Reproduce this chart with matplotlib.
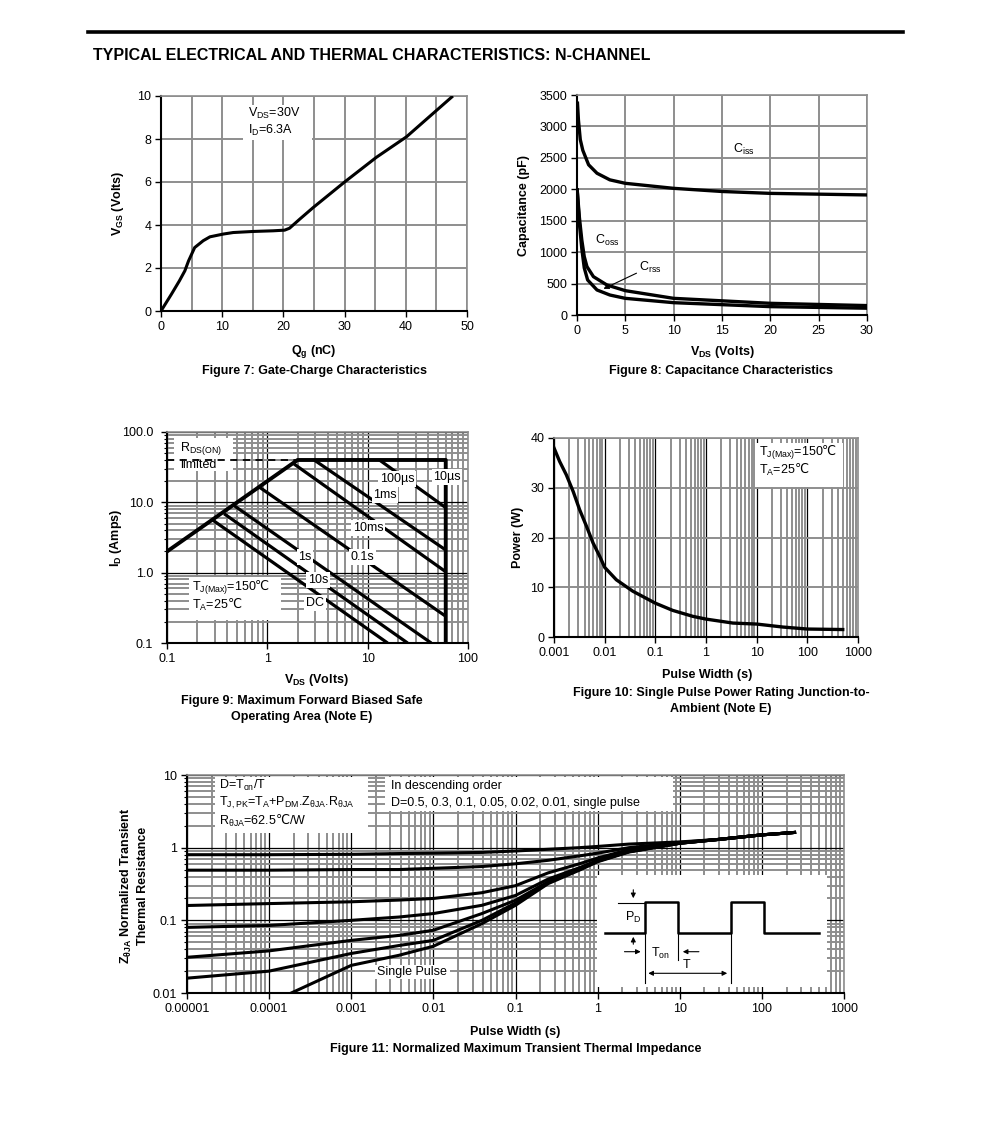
#!/usr/bin/env python3
"""Datasheet page: typical electrical and thermal characteristics (N-channel)."""
import matplotlib
matplotlib.use("Agg")
import matplotlib.pyplot as plt
from matplotlib.patches import Rectangle
from matplotlib.ticker import LogLocator, MultipleLocator, NullFormatter

W, H = 991, 1145
GRAY = "#8e8e8e"
FONT = ["Liberation Sans", "DejaVu Sans"]
LABEL_FS = 9
DEGC = r"$\mathrm{℃}$"  # Liberation Sans has no ℃, take it from the DejaVu math font

plt.rcParams["font.family"] = FONT
plt.rcParams["font.size"] = LABEL_FS
plt.rcParams["mathtext.default"] = "regular"

# --- Figure 7: gate charge ---
qg_nc = [0, 1.7, 3.0, 3.9, 4.5, 5.5, 6.9, 8.0, 10.2, 11.8, 15.1, 18.3, 20.2, 21.0,
         22.7, 24.9, 30.0, 35.2, 40.1, 44.5, 47.7]
vgs_v = [0, 0.78, 1.4, 1.87, 2.33, 2.95, 3.27, 3.45, 3.58, 3.65, 3.70, 3.73, 3.76, 3.85,
         4.28, 4.82, 6.0, 7.15, 8.1, 9.2, 10.0]

# --- Figure 8: capacitance ---
ciss_v = [0.05, 0.15, 0.34, 0.6, 0.86, 1.2, 2.07, 3.4, 5, 10, 15, 20, 30]
ciss_pf = [3370, 3100, 2790, 2620, 2520, 2390, 2255, 2150, 2095, 2015, 1965, 1935, 1910]
coss_v = [0.02, 0.25, 0.5, 0.75, 1.03, 1.7, 3.1, 5, 10, 20, 30]
coss_pf = [1990, 1550, 1190, 930, 770, 610, 477, 387, 265, 186, 150]
crss_v = [0.02, 0.25, 0.5, 0.75, 1.1, 2.07, 3.4, 5, 10, 20, 30]
crss_pf = [1990, 1450, 1050, 750, 557, 398, 318, 265, 196, 133, 108]

# --- Figure 9: safe operating area ---
soa_edge_v = [0.1, 2.0, 60, 60]
soa_edge_a = [2.0, 40, 40, 0.1]
rds_limit_v = [0.1, 2.0]
rds_limit_a = [40, 40]
soa_pulse_names = ["10µs", "100µs", "1ms", "10ms", "0.1s", "1s", "10s/DC"]
soa_v_start = [13.1, 2.93, 1.85, 0.83, 0.46, 0.37, 0.28]
soa_a_start = [40, 40, 35, 16.5, 9.1, 6.9, 5.7]
soa_v_end = [60, 60, 60, 60, 43, 25, 15.8]
soa_a_end = [8.4, 2.1, 1.03, 0.24, 0.1, 0.1, 0.1]

# --- Figure 10: single pulse power ---
pw_s = [0.001, 0.00129, 0.00175, 0.0024, 0.0032, 0.0044, 0.0059, 0.008, 0.01, 0.017,
        0.036, 0.1, 0.22, 0.55, 1.0, 3.4, 10, 33, 100, 500]
pw_w = [38, 35.3, 32.6, 29.2, 25.6, 22.2, 18.9, 16.2, 14.0, 11.5,
        9.2, 6.8, 5.35, 4.15, 3.6, 2.8, 2.6, 2.0, 1.6, 1.5]

# --- Figure 11: transient thermal impedance ---
zth_t = [1e-5, 1e-4, 1e-3, 0.0038, 0.01, 0.039, 0.1, 0.25, 0.6, 1, 2.4, 10, 30, 100, 250]
zth_d05 = [0.80, 0.80, 0.81, 0.83, 0.84, 0.86, 0.90, 0.95, 1.00, 1.04, 1.12, 1.20, 1.30, 1.50, 1.62]
zth_d03 = [0.49, 0.49, 0.50, 0.50, 0.52, 0.55, 0.60, 0.67, 0.77, 0.84, 1.00, 1.18, 1.30, 1.50, 1.62]
zth_d01 = [0.16, 0.17, 0.18, 0.19, 0.20, 0.24, 0.30, 0.45, 0.60, 0.72, 0.94, 1.16, 1.30, 1.50, 1.62]
zth_d005 = [0.080, 0.085, 0.10, 0.111, 0.124, 0.161, 0.22, 0.37, 0.53, 0.67, 0.90, 1.15, 1.30, 1.50, 1.62]
zth_d002 = [0.031, 0.038, 0.053, 0.062, 0.073, 0.124, 0.189, 0.34, 0.51, 0.66, 0.88, 1.15, 1.30, 1.50, 1.62]
zth_d001 = [0.016, 0.020, 0.035, 0.045, 0.053, 0.10, 0.173, 0.33, 0.50, 0.65, 0.88, 1.15, 1.30, 1.50, 1.62]
zth_single_t = [1.86e-4, 1e-3, 0.0038, 0.01, 0.039, 0.1, 0.25, 0.6, 1, 2.4, 10, 30, 100, 250]
zth_single = [0.01, 0.024, 0.033, 0.044, 0.09, 0.161, 0.32, 0.49, 0.64, 0.87, 1.15, 1.30, 1.50, 1.62]

# pulse sketch in the Figure 11 inset (sketch units = pixels of the inset box)
wave_x = [8, 48, 48, 81.3, 81.3, 133.7, 133.7, 167, 167, 222.3]
wave_y = [57.7, 57.7, 26.7, 26.7, 57.7, 57.7, 26.7, 26.7, 57.7, 57.7]

# axes extents in page pixels: left, top, right, bottom
EXT7 = (161, 96, 467, 311)
EXT8 = (577, 95, 867, 315)
EXT9 = (167, 432, 468, 643)
EXT10 = (554, 438, 858, 637)
EXT11 = (187, 775, 844, 993)
EXT_INSET = (597, 875, 827, 987)


def add_axes(fig, ext):
    l, t, r, b = ext
    return fig.add_axes([l / W, 1 - b / H, (r - l) / W, (b - t) / H])


def afr(ext, x, y):
    l, t, r, b = ext
    return (x - l) / (r - l), (b - y) / (b - t)


def fig_text(fig, x, y, s, **kw):
    fig.text(x / W, 1 - y / H, s, **kw)


def ax_text(ax, ext, x, y, s, **kw):
    fx, fy = afr(ext, x, y)
    kw.setdefault("va", "center")
    ax.text(fx, fy, s, transform=ax.transAxes, fontsize=LABEL_FS, **kw)


def white_box(ax, ext, x0, y0, x1, y1, z=1.5):
    fx0, fy1 = afr(ext, x0, y1)
    fx1, fy0 = afr(ext, x1, y0)
    ax.add_patch(Rectangle((fx0, fy1), fx1 - fx0, fy0 - fy1, transform=ax.transAxes,
                           facecolor="white", edgecolor="none", zorder=z))


def label_box(ax, ext, x, y, s):
    fx, fy = afr(ext, x, y)
    ax.text(fx, fy, s, transform=ax.transAxes, ha="center", va="center", fontsize=LABEL_FS,
            zorder=5, bbox=dict(facecolor="white", edgecolor="none", pad=1.2))


def style_axes(ax, log_minor_y=False):
    ax.set_axisbelow(True)
    for side in ("left", "bottom"):
        ax.spines[side].set_color("black")
        ax.spines[side].set_linewidth(1.5)
    for side in ("top", "right"):
        ax.spines[side].set_color(GRAY)
        ax.spines[side].set_linewidth(1.2)
    ax.tick_params(which="major", direction="out", length=4, width=1, labelsize=LABEL_FS, pad=3)
    ax.tick_params(which="minor", direction="out", length=0)
    if log_minor_y:
        ax.tick_params(axis="y", which="minor", length=2.5, width=0.8)


def log_grid(ax, axis):
    target = ax.xaxis if axis == "x" else ax.yaxis
    target.set_major_locator(LogLocator(base=10, numticks=20))
    target.set_minor_locator(LogLocator(base=10, subs=range(2, 10), numticks=20))
    target.set_minor_formatter(NullFormatter())
    ax.grid(True, which="minor", axis=axis, color=GRAY, lw=1.4)
    ax.grid(True, which="major", axis=axis, color="black", lw=0.9)


def main():
    fig = plt.figure(figsize=(W / 100, H / 100), dpi=100)

    # page header
    fig.add_artist(plt.Line2D([88 / W, 903 / W], [1 - 31.7 / H, 1 - 31.7 / H],
                              color="black", lw=2.6, transform=fig.transFigure))
    fig_text(fig, 93, 56, "TYPICAL ELECTRICAL AND THERMAL CHARACTERISTICS: N-CHANNEL",
             fontsize=11.5, fontweight="bold", ha="left", va="center")

    # ---- Figure 7 ----
    ax = add_axes(fig, EXT7)
    style_axes(ax)
    ax.set_xlim(0, 50)
    ax.set_ylim(0, 10)
    ax.xaxis.set_major_locator(MultipleLocator(10))
    ax.xaxis.set_minor_locator(MultipleLocator(5))
    ax.yaxis.set_major_locator(MultipleLocator(2))
    ax.grid(True, which="both", color=GRAY, lw=1.4)
    ax.plot(qg_nc, vgs_v, color="black", lw=2.2, zorder=3, solid_capstyle="butt")
    white_box(ax, EXT7, 243, 105, 312, 140)
    ax_text(ax, EXT7, 248, 113, "V$_{DS}$=30V", ha="left", zorder=4)
    ax_text(ax, EXT7, 248, 130, "I$_D$=6.3A", ha="left", zorder=4)
    fig_text(fig, 314, 352, "Q$_g$ (nC)", fontweight="bold", ha="center", va="center")
    fig_text(fig, 314, 371, "Figure 7: Gate-Charge Characteristics", fontweight="bold",
             ha="center", va="center")
    fig_text(fig, 118, 203, "V$_{GS}$ (Volts)", fontweight="bold", rotation=90,
             ha="center", va="center")

    # ---- Figure 8 ----
    ax = add_axes(fig, EXT8)
    style_axes(ax)
    ax.set_xlim(0, 30)
    ax.set_ylim(0, 3500)
    ax.xaxis.set_major_locator(MultipleLocator(5))
    ax.yaxis.set_major_locator(MultipleLocator(500))
    ax.grid(True, which="major", color=GRAY, lw=1.4)
    for v, c in ((ciss_v, ciss_pf), (coss_v, coss_pf), (crss_v, crss_pf)):
        ax.plot(v, c, color="black", lw=2.4, zorder=3)
    ax_text(ax, EXT8, 744, 149, "C$_{iss}$", ha="center")
    ax_text(ax, EXT8, 607, 240, "C$_{oss}$", ha="center")
    ax_text(ax, EXT8, 650, 267, "C$_{rss}$", ha="center")
    x0, y0 = afr(EXT8, 639, 272)
    x1, y1 = afr(EXT8, 601, 290)
    ax.annotate("", xy=(x1, y1), xytext=(x0, y0), xycoords="axes fraction",
                arrowprops=dict(arrowstyle="-|>", color="black", lw=0.8,
                                mutation_scale=8), zorder=4)
    fig_text(fig, 722, 352, "V$_{DS}$ (Volts)", fontweight="bold", ha="center", va="center")
    fig_text(fig, 721, 371, "Figure 8: Capacitance Characteristics", fontweight="bold",
             ha="center", va="center")
    fig_text(fig, 524, 205, "Capacitance (pF)", fontweight="bold", rotation=90,
             ha="center", va="center")

    # ---- Figure 9 ----
    ax = add_axes(fig, EXT9)
    ax.set_xscale("log")
    ax.set_yscale("log")
    ax.set_xlim(0.1, 100)
    ax.set_ylim(0.1, 100)
    style_axes(ax, log_minor_y=True)
    log_grid(ax, "x")
    log_grid(ax, "y")
    ax.set_xticks([0.1, 1, 10, 100], ["0.1", "1", "10", "100"])
    ax.set_yticks([0.1, 1, 10, 100], ["0.1", "1.0", "10.0", "100.0"])
    ax.tick_params(axis="y", which="major", pad=6)
    white_box(ax, EXT9, 174, 438, 233, 471)
    ax_text(ax, EXT9, 180, 449, "R$_{DS(ON)}$", ha="left", zorder=1.6)
    ax_text(ax, EXT9, 180, 465, "limited", ha="left", zorder=1.6)
    ax.plot(rds_limit_v, rds_limit_a, color="black", lw=1.3, ls=(0, (4, 3)), zorder=3)
    ax.plot(soa_edge_v, soa_edge_a, color="black", lw=2.8, zorder=3)
    for vs, a_s, ve, a_e in zip(soa_v_start, soa_a_start, soa_v_end, soa_a_end):
        ax.plot([vs, ve], [a_s, a_e], color="black", lw=2.3, zorder=3, solid_capstyle="butt")
    label_box(ax, EXT9, 397, 479, "100µs")
    label_box(ax, EXT9, 447, 477, "10µs")
    label_box(ax, EXT9, 385, 495, "1ms")
    label_box(ax, EXT9, 368, 528, "10ms")
    label_box(ax, EXT9, 305, 557, "1s")
    label_box(ax, EXT9, 362, 557, "0.1s")
    label_box(ax, EXT9, 318, 580, "10s")
    label_box(ax, EXT9, 315, 603, "DC")
    white_box(ax, EXT9, 189, 577, 281, 620)
    ax_text(ax, EXT9, 192, 588, "T$_{J(Max)}$=150" + DEGC, ha="left", zorder=4)
    ax_text(ax, EXT9, 192, 605, "T$_A$=25" + DEGC, ha="left", zorder=4)
    fig_text(fig, 316, 680, "V$_{DS}$ (Volts)", fontweight="bold", ha="center", va="center")
    fig_text(fig, 302, 709, "Figure 9: Maximum Forward Biased Safe\nOperating Area (Note E)",
             fontweight="bold", ha="center", va="center", linespacing=1.45)
    fig_text(fig, 116, 538, "I$_D$ (Amps)", fontweight="bold", rotation=90,
             ha="center", va="center")

    # ---- Figure 10 ----
    ax = add_axes(fig, EXT10)
    ax.set_xscale("log")
    ax.set_xlim(0.001, 1000)
    ax.set_ylim(0, 40)
    style_axes(ax)
    log_grid(ax, "x")
    ax.yaxis.set_major_locator(MultipleLocator(10))
    ax.grid(True, which="major", axis="y", color=GRAY, lw=1.4)
    ax.set_xticks([0.001, 0.01, 0.1, 1, 10, 100, 1000],
                  ["0.001", "0.01", "0.1", "1", "10", "100", "1000"])
    ax.plot(pw_s, pw_w, color="black", lw=2.4, zorder=3)
    white_box(ax, EXT10, 755, 443, 843, 487)
    ax_text(ax, EXT10, 759, 453, "T$_{J(Max)}$=150" + DEGC, ha="left", zorder=4)
    ax_text(ax, EXT10, 759, 470, "T$_A$=25" + DEGC, ha="left", zorder=4)
    fig_text(fig, 707, 675, "Pulse Width (s)", fontweight="bold", ha="center", va="center")
    fig_text(fig, 721, 701, "Figure 10: Single Pulse Power Rating Junction-to-\nAmbient (Note E)",
             fontweight="bold", ha="center", va="center", linespacing=1.35)
    fig_text(fig, 518, 537, "Power (W)", fontweight="bold", rotation=90,
             ha="center", va="center")

    # ---- Figure 11 ----
    ax = add_axes(fig, EXT11)
    ax.set_xscale("log")
    ax.set_yscale("log")
    ax.set_xlim(1e-5, 1000)
    ax.set_ylim(0.01, 10)
    style_axes(ax, log_minor_y=True)
    log_grid(ax, "x")
    log_grid(ax, "y")
    ax.set_xticks([1e-5, 1e-4, 1e-3, 0.01, 0.1, 1, 10, 100, 1000],
                  ["0.00001", "0.0001", "0.001", "0.01", "0.1", "1", "10", "100", "1000"])
    ax.set_yticks([0.01, 0.1, 1, 10], ["0.01", "0.1", "1", "10"])
    for series in (zth_d05, zth_d03, zth_d01, zth_d005, zth_d002, zth_d001):
        ax.plot(zth_t, series, color="black", lw=2.2, zorder=3)
    ax.plot(zth_single_t, zth_single, color="black", lw=2.2, zorder=3)
    white_box(ax, EXT11, 215, 777, 368, 833)
    ax_text(ax, EXT11, 219, 785, "D=T$_{on}$/T", ha="left", zorder=4)
    ax_text(ax, EXT11, 219, 803, "T$_{J,PK}$=T$_A$+P$_{DM}$.Z$_{θJA}$.R$_{θJA}$", ha="left", zorder=4)
    ax_text(ax, EXT11, 219, 821, "R$_{θJA}$=62.5" + DEGC + "/W", ha="left", zorder=4)
    white_box(ax, EXT11, 385, 777, 673, 811)
    ax_text(ax, EXT11, 391, 786, "In descending order", ha="left", zorder=4)
    ax_text(ax, EXT11, 391, 803, "D=0.5, 0.3, 0.1, 0.05, 0.02, 0.01, single pulse",
            ha="left", zorder=4)
    white_box(ax, EXT11, 375, 965, 450, 979)
    ax_text(ax, EXT11, 412, 972, "Single Pulse", ha="center", zorder=4)
    fig_text(fig, 515, 1032, "Pulse Width (s)", fontweight="bold", ha="center", va="center")
    fig_text(fig, 516, 1049, "Figure 11: Normalized Maximum Transient Thermal Impedance",
             fontweight="bold", ha="center", va="center")
    fig_text(fig, 134, 886, "Z$_{θJA}$ Normalized Transient\nThermal Resistance",
             fontweight="bold", rotation=90, ha="center", va="center", linespacing=1.25)

    # inset with the pulse sketch
    ins = add_axes(fig, EXT_INSET)
    ins.set_xlim(0, EXT_INSET[2] - EXT_INSET[0])
    ins.set_ylim(EXT_INSET[3] - EXT_INSET[1], 0)
    ins.set_facecolor("white")
    ins.axis("off")
    ins.add_patch(Rectangle((0, 0), 230, 112, facecolor="white", edgecolor="none"))
    ins.plot(wave_x, wave_y, color="black", lw=1.8)
    thin = dict(color="black", lw=0.8)
    ins.plot([21, 48], [27.5, 27.5], **thin)
    ins.plot([47.5, 47.5], [58, 108], **thin)
    ins.plot([133.7, 133.7], [58, 108], **thin)
    ins.plot([81.3, 81.3], [58, 85], **thin)
    arrow = dict(arrowstyle="-|>", color="black", lw=0.8, mutation_scale=7)
    ins.annotate("", xy=(36.3, 26), xytext=(36.3, 12), arrowprops=arrow)
    ins.annotate("", xy=(36.3, 59), xytext=(36.3, 72), arrowprops=arrow)
    ins.annotate("", xy=(46.5, 76.7), xytext=(24.7, 76.7), arrowprops=arrow)
    ins.annotate("", xy=(83, 76.7), xytext=(104.7, 76.7), arrowprops=arrow)
    ins.annotate("", xy=(133, 98.3), xytext=(48.5, 98.3),
                 arrowprops=dict(arrowstyle="<|-|>", color="black", lw=0.8, mutation_scale=7))
    ins.text(36.3, 42, "P$_D$", ha="center", va="center", fontsize=LABEL_FS)
    ins.text(63, 78, "T$_{on}$", ha="center", va="center", fontsize=LABEL_FS)
    ins.text(90, 90, "T", ha="center", va="center", fontsize=LABEL_FS)

    fig.savefig("out.png", dpi=100)
    plt.close(fig)


if __name__ == "__main__":
    main()
